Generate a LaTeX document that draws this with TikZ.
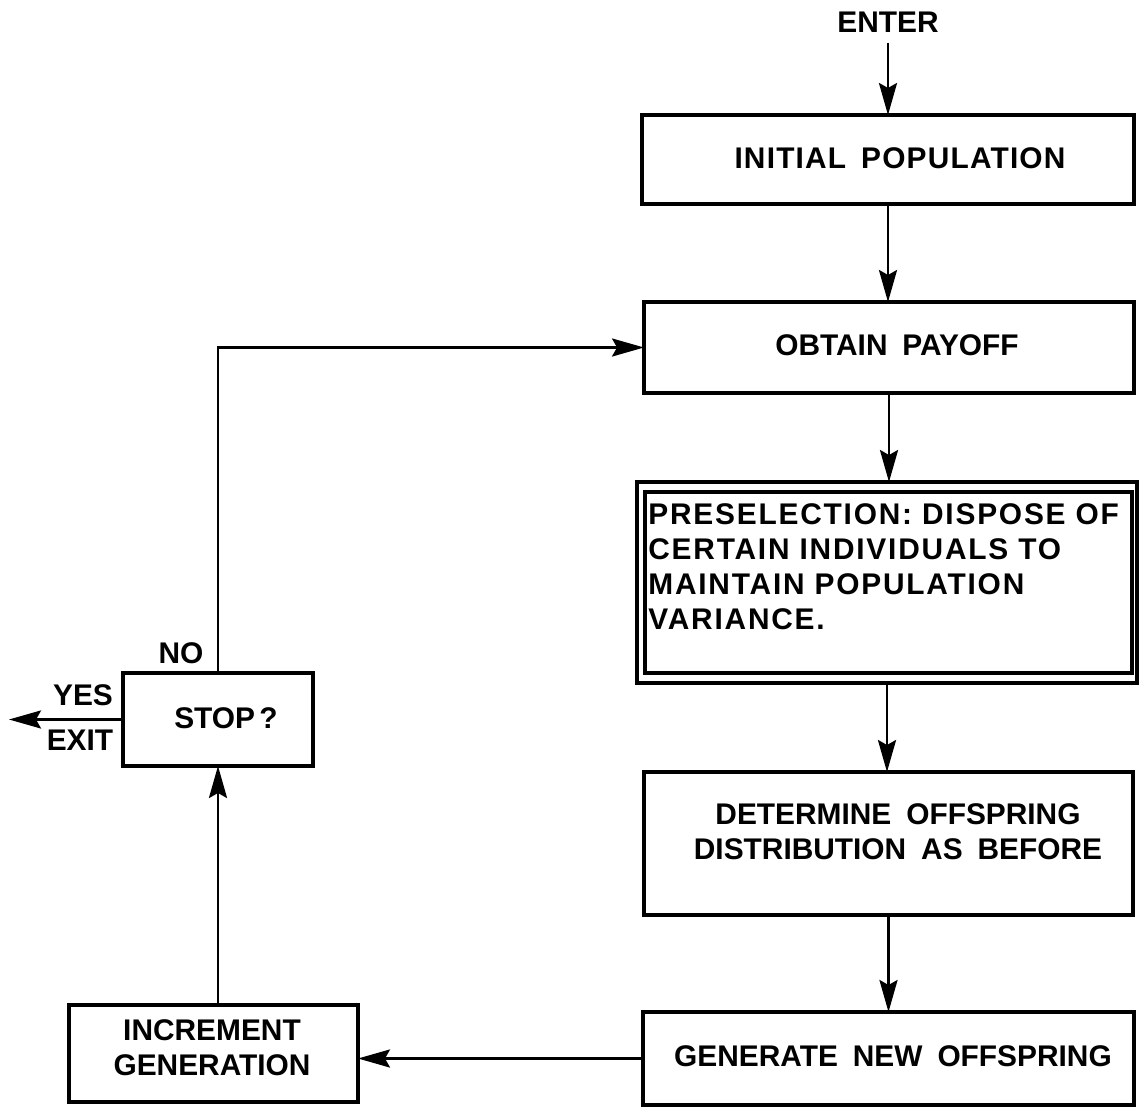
\documentclass[tikz,border=0pt]{standalone}
\usepackage{fontspec}
\setmainfont{Liberation Sans}
\usetikzlibrary{arrows.meta,calc}
\newcommand\chartfont{\bfseries\fontsize{17}{20}\selectfont\spaceskip=0.5em plus 0.1em}
\begin{document}
\begin{tikzpicture}[x=0.02cm,y=-0.02cm,
  box/.style={draw,line width=2.4pt,rectangle,inner sep=0pt,outer sep=0pt,
              font=\chartfont,align=center},
  lbl/.style={font=\chartfont,inner sep=0pt,align=center},
  flow/.style={line width=1.6pt,
               -{Stealth[length=0.64cm,width=0.36cm,inset=0.1cm]}},
]
\useasboundingbox (0,0) rectangle (1139,1108);

% main column
\node[lbl] (enter) at (888,22) {ENTER};
\node[box,minimum width=9.84cm,minimum height=1.78cm] (init) at (888,159.5) {};
\node[lbl] (inittext) at (900,158) {\addfontfeature{LetterSpace=4}INITIAL POPULATION};
\node[box,minimum width=9.80cm,minimum height=1.82cm] (obtain) at (889,347.5) {};
\node[lbl] (obtaintext) at (897,345) {OBTAIN PAYOFF};
\node[box,minimum width=10.0cm,minimum height=4.02cm] (pre) at (887,582.5) {};
\draw[line width=1.8pt] ($(pre.north west)+(8,10)$) rectangle ($(pre.south east)+(-5,-10)$);
\node[lbl,anchor=west,text width=9.7cm,align=left] (pretext) at (648,566.5)
  {\addfontfeature{LetterSpace=6}PRESELECTION: DISPOSE OF\\CERTAIN INDIVIDUALS TO\\MAINTAIN POPULATION\\VARIANCE.};
\node[box,minimum width=9.78cm,minimum height=2.86cm] (det) at (888.5,843.5) {};
\node[lbl] (dettext) at (898,832)
  {DETERMINE OFFSPRING\\DISTRIBUTION AS BEFORE};
\node[box,minimum width=9.82cm,minimum height=1.86cm] (gen) at (888.5,1058.5) {};
\node[lbl] (gentext) at (893,1056) {GENERATE NEW OFFSPRING};

% loop column
\node[box,minimum width=5.78cm,minimum height=1.94cm] (inc) at (213.5,1053.5) {};
\node[lbl] (inctext) at (212,1048) {INCREMENT\\GENERATION};
\node[box,minimum width=3.8cm,minimum height=1.86cm] (stop) at (218,719.5) {};
\node[lbl] (stoptext) at (226,718) {STOP\hspace{0.15em}?};
\node[lbl] (yes) at (83,695) {YES};
\node[lbl] (exitlbl) at (80,740) {EXIT};
\node[lbl] (no) at (181,653) {NO};
\coordinate (exit) at (9,718);

% connectors
\draw[flow] (enter.south) ++(0,10) -- (enter.south |- init.north);
\draw[flow] (init.south) -- (init.south |- obtain.north);
\draw[flow] (obtain.south) -- (obtain.south |- pre.north);
\draw[flow] (pre.south) -- (pre.south |- det.north);
\draw[flow] (det.south) -- (det.south |- gen.north);
\draw[flow] (gen.west) -- (gen.west -| inc.east);
\draw[flow] (inc.north -| stop.south) -- (stop.south);
\draw[flow] (stop.north) |- (obtain.west);
\draw[flow] (stop.west) -- (stop.west -| exit);
\end{tikzpicture}
\end{document}
